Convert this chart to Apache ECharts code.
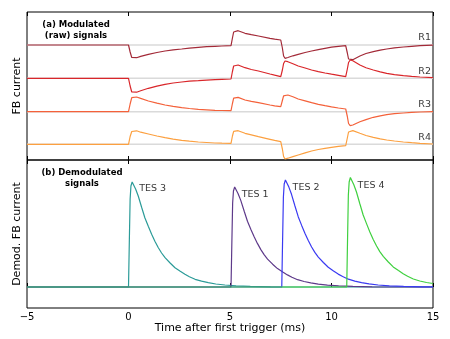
<!DOCTYPE html>
<html>
<head>
<meta charset="utf-8">
<script src="https://cdn.jsdelivr.net/npm/echarts@6/dist/echarts.min.js"></script>
<style>
  html, body { margin: 0; padding: 0; background: #fff; }
  #chart { width: 450px; height: 339px; }
</style>
</head>
<body>
<div id="chart"></div>
<script>
// time axis (ms)
var xTicks = [-5, 0, 5, 10, 15];
var xTickLabels = ['\u22125', '0', '5', '10', '15'];

// (a) modulated (raw) signals, [time, level]
var rNames = ['R1', 'R2', 'R3', 'R4'];
var rBaselines = [115, 81.7, 48.3, 15.7];
var R1 = [[-5,115],[0,115],[0.08,108],[0.16,102.5],[0.24,101],[0.4,102.3],[0.6,103.6],[0.98,105.7],[1.4,107.5],[1.8,109],[2.2,110.1],[2.62,111],[3.0,111.9],[3.44,112.7],[3.85,113.3],[4.26,113.7],[4.6,114],[5.05,114.3],
  [5.12,122],[5.18,128],[5.25,130],[5.4,129.3],[5.74,126.7],[6.05,125.3],[6.4,124],[6.97,121.7],[7.2,120.8],[7.5,120],
  [7.58,112],[7.64,104],[7.71,101.7],[7.85,102.5],[8.1,104.2],[8.36,105.7],[8.7,107.5],[9.02,109],[9.35,110.4],[9.68,111.7],[10.0,112.8],[10.34,113.7],[10.7,114.3],
  [10.78,107],[10.84,101],[10.92,99.5],[11.05,100.3],[11.4,104],[11.7,106.5],[12.06,108.3],[12.4,109.8],[12.72,111],[13.1,112.1],[13.54,113],[13.95,113.7],[14.36,114.3],[15,114.8]];
var R2 = [[-5,81.7],[0,81.7],[0.08,74],[0.16,68],[0.24,66.7],[0.4,67.8],[0.6,69.2],[0.98,71.7],[1.4,73.9],[1.8,75.7],[2.2,77],[2.62,78],[3.0,78.8],[3.44,79.3],[3.85,79.8],[4.26,80.3],[4.6,80.7],[5.05,81],
  [5.12,88.5],[5.18,94],[5.25,95.7],[5.4,95],[5.74,92.3],[6.05,90.5],[6.4,89],[6.97,86],[7.2,84.8],[7.5,83.3],
  [7.58,90],[7.64,96.5],[7.71,99],[7.85,98.3],[8.1,96.2],[8.36,94],[8.7,92],[9.02,90],[9.35,88.4],[9.68,87],[10.0,85.8],[10.34,84.7],[10.7,83.3],
  [10.78,91],[10.84,97.5],[10.92,100],[11.05,99.2],[11.4,95],[11.7,92.3],[12.06,90],[12.4,88.2],[12.72,86.7],[13.1,85.4],[13.54,84.3],[13.95,83.6],[14.36,83],[15,82.3]];
var R3 = [[-5,48.3],[0,48.3],[0.08,56],[0.16,62.3],[0.24,64],[0.4,63],[0.6,61.6],[0.98,59],[1.4,56.8],[1.8,55],[2.2,53.6],[2.62,52.3],[3.0,51.5],[3.44,50.7],[3.85,50.2],[4.26,49.7],[4.6,49.5],[5.05,49.3],
  [5.12,56.5],[5.18,61.8],[5.25,63.3],[5.4,62.6],[5.74,60],[6.05,58.6],[6.4,57.3],[6.97,55],[7.2,54.1],[7.5,53.3],
  [7.58,59.5],[7.64,64.2],[7.71,65.7],[7.85,65],[8.1,63.2],[8.36,61],[8.7,59.1],[9.02,57.3],[9.35,55.7],[9.68,54.3],[10.0,53.1],[10.34,52],[10.7,51],
  [10.78,43.5],[10.84,36.5],[10.92,34.3],[11.05,35],[11.4,38.3],[11.7,40.4],[12.06,42.7],[12.4,44.2],[12.72,45.3],[13.1,46.3],[13.54,47],[13.95,47.6],[14.36,48],[15,48.3]];
var R4 = [[-5,15.7],[0,15.7],[0.08,23.5],[0.16,28.5],[0.24,30],[0.4,29.2],[0.6,27.8],[0.98,26],[1.4,24],[1.8,22.3],[2.2,20.9],[2.62,19.7],[3.0,18.8],[3.44,18],[3.85,17.5],[4.26,17],[4.6,16.8],[5.05,16.7],
  [5.12,24],[5.18,28.7],[5.25,30],[5.4,29.3],[5.74,26.7],[6.05,25.2],[6.4,23.3],[6.97,20.7],[7.2,19.6],[7.5,18.3],
  [7.58,11],[7.64,3.5],[7.71,1],[7.85,1.8],[8.1,3.4],[8.36,5],[8.7,7.1],[9.02,9],[9.35,10.5],[9.68,11.7],[10.0,12.7],[10.34,13.7],[10.7,14.3],
  [10.78,22],[10.84,28],[10.92,30],[11.05,29.4],[11.4,26.7],[11.7,24.5],[12.06,22.7],[12.4,21.2],[12.72,20],[13.1,19],[13.54,18],[13.95,17.3],[14.36,16.7],[15,16]];

// (b) demodulated signals
var tesNames = ['TES 3', 'TES 1', 'TES 2', 'TES 4'];
var tesLabelAt = [[0.5, 98], [5.55, 92.7], [8.06, 99.7], [11.26, 101.7]];
var TES3 = [[-5,0],[0,0],[0.04,45],[0.08,88],[0.12,101],[0.18,105],[0.25,103.5],[0.35,98],[0.48,91],[0.65,79.5],[0.81,69],[0.98,60.5],[1.14,52.7],[1.3,45.8],[1.47,39.3],[1.63,34],[1.8,29.3],[2.05,24],[2.29,19.3],[2.55,15.7],[2.78,12.7],[3.0,10.3],[3.28,7.7],[3.6,5.8],[3.93,4.3],[4.3,3],[4.75,2],[5.3,1.2],[6,0.6],[7,0.2],[8.5,0],[15,0]];
var TES1 = [[-5,0],[5.05,0],[5.09,43],[5.13,84],[5.17,96],[5.23,100],[5.3,98.5],[5.4,93.3],[5.53,86.6],[5.7,75.7],[5.86,65.7],[6.03,57.6],[6.19,50.2],[6.35,43.6],[6.52,37.4],[6.68,32.4],[6.85,27.9],[7.1,22.8],[7.34,18.4],[7.6,14.9],[7.83,12.1],[8.05,9.8],[8.33,7.3],[8.65,5.5],[8.98,4.1],[9.35,2.9],[9.8,1.9],[10.35,1.1],[11.05,0.6],[12,0.2],[13.5,0],[15,0]];
var TES2 = [[-5,0],[7.55,0],[7.59,46],[7.63,90],[7.67,103],[7.73,107],[7.8,105.5],[7.9,99.9],[8.03,92.7],[8.2,81],[8.36,70.3],[8.53,61.6],[8.69,53.7],[8.85,46.7],[9.02,40],[9.18,34.6],[9.35,29.9],[9.6,24.5],[9.84,19.7],[10.1,16],[10.33,12.9],[10.55,10.5],[10.83,7.8],[11.15,5.9],[11.48,4.4],[11.85,3.1],[12.3,2],[12.85,1.2],[13.55,0.6],[14.5,0.2],[15,0.1]];
var TES4 = [[-5,0],[10.75,0],[10.79,47],[10.83,92],[10.87,105],[10.93,109.5],[11.0,108],[11.1,102.2],[11.23,95],[11.4,83],[11.56,72],[11.73,63.1],[11.89,55],[12.05,47.8],[12.22,41],[12.38,35.4],[12.55,30.6],[12.8,25],[13.04,20.1],[13.3,16.4],[13.53,13.2],[13.75,10.7],[14.03,8],[14.35,6],[14.68,4.5],[15,3.5]];

var rColors = ['#a32a38', '#d9262a', '#f4613a', '#fca040'];
var tesColors = ['#2b9b98', '#5e3a8a', '#3a3af2', '#3fd03f'];
var FONT = '"DejaVu Sans", sans-serif';

var chart = echarts.init(document.getElementById('chart'), null, {renderer: 'canvas'});

function xAx(grid, pos, labels) {
  return {
    type: 'value', gridIndex: grid, position: pos, min: -5, max: 15, interval: 5,
    axisLine: {show: false},
    axisTick: {show: true, inside: true, length: 4, lineStyle: {color: '#000', width: 1}},
    axisLabel: {show: labels, margin: 4, fontSize: 10, fontFamily: FONT, color: '#000',
      formatter: function (v) { return xTickLabels[xTicks.indexOf(v)]; }},
    splitLine: {show: false}
  };
}
function yAx(grid, lo, hi, name) {
  return {
    type: 'value', gridIndex: grid, min: lo, max: hi,
    axisLine: {show: false}, axisTick: {show: false}, axisLabel: {show: false}, splitLine: {show: false},
    name: name, nameLocation: 'middle', nameGap: 4,
    nameTextStyle: {fontSize: 11, fontFamily: FONT, color: '#000'}
  };
}

var series = [];
// grey baselines
rBaselines.forEach(function (b) {
  series.push({type: 'line', xAxisIndex: 0, yAxisIndex: 0, data: [[-5, b], [15, b]],
    symbol: 'none', silent: true, z: 1, lineStyle: {color: '#dadada', width: 1.5}});
});
[R1, R2, R3, R4].forEach(function (d, i) {
  series.push({type: 'line', name: rNames[i], xAxisIndex: 0, yAxisIndex: 0, data: d,
    symbol: 'none', z: 2, lineStyle: {color: rColors[i], width: 1.2}});
});
series.push({type: 'scatter', xAxisIndex: 0, yAxisIndex: 0, symbolSize: 1, z: 5,
  itemStyle: {color: 'transparent'},
  data: rBaselines.map(function (b, i) { return {name: rNames[i], value: [15, b]}; }),
  label: {show: true, position: 'top', align: 'right', distance: 1.5, offset: [-2, 0],
    formatter: '{b}', fontSize: 9.5, fontFamily: FONT, color: '#000'}});

[TES3, TES1, TES2, TES4].forEach(function (d, i) {
  series.push({type: 'line', name: tesNames[i], xAxisIndex: 2, yAxisIndex: 1, data: d,
    symbol: 'none', z: 2, lineStyle: {color: tesColors[i], width: 1.2}});
});
series.push({type: 'scatter', xAxisIndex: 2, yAxisIndex: 1, symbolSize: 1, z: 5,
  itemStyle: {color: 'transparent'},
  data: tesLabelAt.map(function (p, i) { return {name: tesNames[i], value: p}; }),
  label: {show: true, position: 'right', distance: 0,
    formatter: '{b}', fontSize: 9.5, fontFamily: FONT, color: '#000'}});

var option = {
  animation: false,
  backgroundColor: '#fff',
  grid: [
    {left: 27, top: 12, width: 406, height: 148, show: true, borderColor: '#000', borderWidth: 1},
    {left: 27, top: 160, width: 406, height: 148, show: true, borderColor: '#000', borderWidth: 1}
  ],
  xAxis: [
    xAx(0, 'bottom', false),
    xAx(0, 'top', false),
    Object.assign(xAx(1, 'bottom', true), {
      name: 'Time after first trigger (ms)', nameLocation: 'middle', nameGap: 15,
      nameTextStyle: {fontSize: 11, fontFamily: FONT, color: '#000'}
    }),
    xAx(1, 'top', false)
  ],
  yAxis: [
    yAx(0, 0, 148, 'FB current'),
    yAx(1, -21, 127, 'Demod. FB current')
  ],
  graphic: [
    {type: 'text', x: 76, y: 30, style: {text: '(a) Modulated\n(raw) signals', font: 'bold 8.5px ' + FONT,
      textAlign: 'center', textVerticalAlign: 'middle', lineHeight: 11, fill: '#000'}},
    {type: 'text', x: 82, y: 178.5, style: {text: '(b) Demodulated\nsignals', font: 'bold 8.5px ' + FONT,
      textAlign: 'center', textVerticalAlign: 'middle', lineHeight: 11, fill: '#000'}}
  ],
  series: series
};
chart.setOption(option);
</script>
</body>
</html>
